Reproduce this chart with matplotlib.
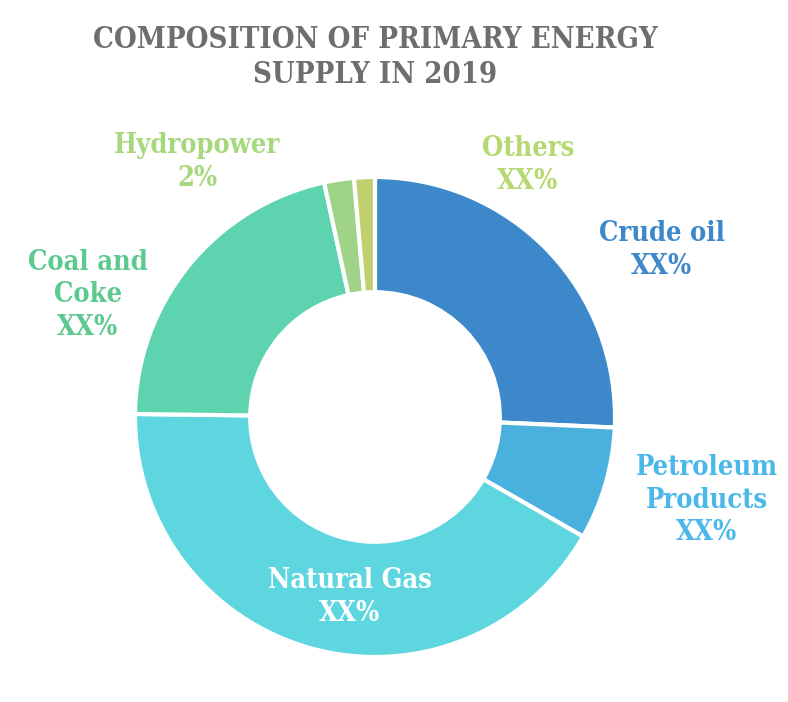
import matplotlib
matplotlib.use("Agg")
from matplotlib import pyplot as plt

# data (clockwise from 12 o'clock)
categories = ["Crude oil", "Petroleum Products", "Natural Gas", "Coal and Coke", "Hydropower", "Others"]
shares = [25.7, 7.6, 41.9, 21.4, 2.0, 1.4]
wedge_colors = ["#3c88cb", "#4ab0de", "#5dd6e0", "#5dd3b0", "#9fd387", "#bfd06d"]

label_texts = ["Crude oil\nXX%", "Petroleum\nProducts\nXX%", "Natural Gas\nXX%",
               "Coal and\nCoke\nXX%", "Hydropower\n2%", "Others\nXX%"]
label_colors = ["#3c88cb", "#4bb8ea", "white", "#5cc98e", "#a8d87e", "#b5d870"]

TITLE = "COMPOSITION OF PRIMARY ENERGY\nSUPPLY IN 2019"
W, H = 788, 702


def main():
    fig = plt.figure(figsize=(W / 100, H / 100), dpi=100)
    ax = fig.add_axes([0, 0, 1, 1])

    cx, cy, r = 375, H - 417, 240
    ax.pie(shares, colors=wedge_colors, startangle=90, counterclock=False,
           center=(cx, cy), radius=r, frame=True,
           wedgeprops=dict(width=r * 0.48, edgecolor="white", linewidth=3))
    ax.set_xlim(0, W)
    ax.set_ylim(0, H)
    ax.set_aspect("equal")
    ax.axis("off")

    font = dict(family="DejaVu Serif", fontstretch="condensed", fontweight="bold")
    # label anchor points in pixels from the top-left
    spots = [(662, 250), (707, 500), (350, 597), (88, 295), (197, 162), (528, 165)]
    for txt, col, (x, y) in zip(label_texts, label_colors, spots):
        ax.text(x, H - y, txt, color=col, fontsize=19.5, ha="center", va="center",
                linespacing=1.28, **font)

    ax.text(375, H - 57, TITLE, color="#6e6e6e", fontsize=21, ha="center", va="center",
            linespacing=1.3, **font)

    fig.savefig("out.png", dpi=100)
    plt.close(fig)


if __name__ == "__main__":
    main()
